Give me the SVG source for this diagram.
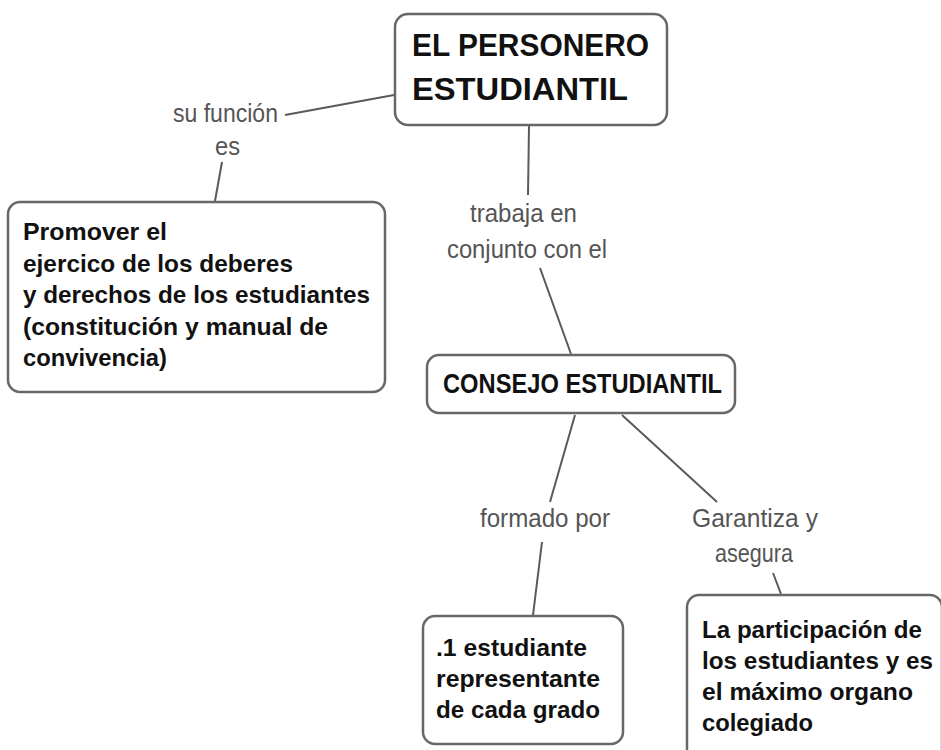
<svg xmlns="http://www.w3.org/2000/svg" width="941" height="750" viewBox="0 0 941 750">
<style>
.box{fill:#fff;stroke:#676767;stroke-width:2.5}
.nt{font-family:"Liberation Sans",Arial,sans-serif;font-weight:bold;fill:#111}
.lbl{font-family:"Liberation Sans",Arial,sans-serif;font-size:26px;fill:#555}
.con line{stroke:#5a5a5a;stroke-width:2}
</style>
<rect width="941" height="750" fill="#fff"/>
<g id="connectors" class="con">
<line x1="285" y1="115" x2="394" y2="95"/>
<line x1="222" y1="162" x2="215" y2="201"/>
<line x1="529" y1="126" x2="528" y2="195"/>
<line x1="540" y1="268" x2="571" y2="354"/>
<line x1="575" y1="415" x2="550" y2="502"/>
<line x1="542" y1="542" x2="533" y2="615"/>
<line x1="622" y1="415" x2="717" y2="502"/>
<line x1="773" y1="573" x2="781" y2="594"/>
</g>
<g id="labels">
<text class="lbl" x="173" y="122" textLength="105" lengthAdjust="spacingAndGlyphs">su función</text>
<text class="lbl" x="215" y="155" textLength="25" lengthAdjust="spacingAndGlyphs">es</text>
<text class="lbl" x="470" y="222" textLength="107" lengthAdjust="spacingAndGlyphs">trabaja en</text>
<text class="lbl" x="447" y="258" textLength="160" lengthAdjust="spacingAndGlyphs">conjunto con el</text>
<text class="lbl" x="480" y="527" textLength="130" lengthAdjust="spacingAndGlyphs">formado por</text>
<text class="lbl" x="692" y="527" textLength="126" lengthAdjust="spacingAndGlyphs">Garantiza y</text>
<text class="lbl" x="715" y="562" textLength="78" lengthAdjust="spacingAndGlyphs">asegura</text>
</g>
<g id="node-personero">
<rect class="box" x="395" y="14" width="272" height="111" rx="13"/>
<text class="nt" font-size="32" x="412" y="56" textLength="237" lengthAdjust="spacingAndGlyphs">EL PERSONERO</text>
<text class="nt" font-size="32" x="412" y="100" textLength="216" lengthAdjust="spacingAndGlyphs">ESTUDIANTIL</text>
</g>
<g id="node-promover">
<rect class="box" x="8" y="202" width="377" height="190" rx="12"/>
<text class="nt" font-size="24" x="23" y="240" textLength="144" lengthAdjust="spacingAndGlyphs">Promover el</text>
<text class="nt" font-size="24" x="23" y="271.5" textLength="270" lengthAdjust="spacingAndGlyphs">ejercico de los deberes</text>
<text class="nt" font-size="24" x="23" y="303" textLength="347" lengthAdjust="spacingAndGlyphs">y derechos de los estudiantes</text>
<text class="nt" font-size="24" x="23" y="334.5" textLength="305" lengthAdjust="spacingAndGlyphs">(constitución y manual de</text>
<text class="nt" font-size="24" x="23" y="366" textLength="144" lengthAdjust="spacingAndGlyphs">convivencia)</text>
</g>
<g id="node-consejo">
<rect class="box" x="427" y="355" width="308" height="58" rx="12"/>
<text class="nt" font-size="27" x="443" y="393" textLength="279" lengthAdjust="spacingAndGlyphs">CONSEJO ESTUDIANTIL</text>
</g>
<g id="node-estudiante">
<rect class="box" x="423" y="616" width="200" height="128" rx="12"/>
<text class="nt" font-size="24" x="436" y="656" textLength="151" lengthAdjust="spacingAndGlyphs">.1 estudiante</text>
<text class="nt" font-size="24" x="436" y="687" textLength="164" lengthAdjust="spacingAndGlyphs">representante</text>
<text class="nt" font-size="24" x="436" y="718" textLength="164" lengthAdjust="spacingAndGlyphs">de cada grado</text>
</g>
<g id="node-participacion">
<rect class="box" x="687" y="595" width="255" height="175" rx="12"/>
<text class="nt" font-size="24" x="702" y="638" textLength="220" lengthAdjust="spacingAndGlyphs">La participación de</text>
<text class="nt" font-size="24" x="702" y="669" textLength="231" lengthAdjust="spacingAndGlyphs">los estudiantes y es</text>
<text class="nt" font-size="24" x="702" y="700" textLength="211" lengthAdjust="spacingAndGlyphs">el máximo organo</text>
<text class="nt" font-size="24" x="702" y="731" textLength="111" lengthAdjust="spacingAndGlyphs">colegiado</text>
</g>
</svg>
